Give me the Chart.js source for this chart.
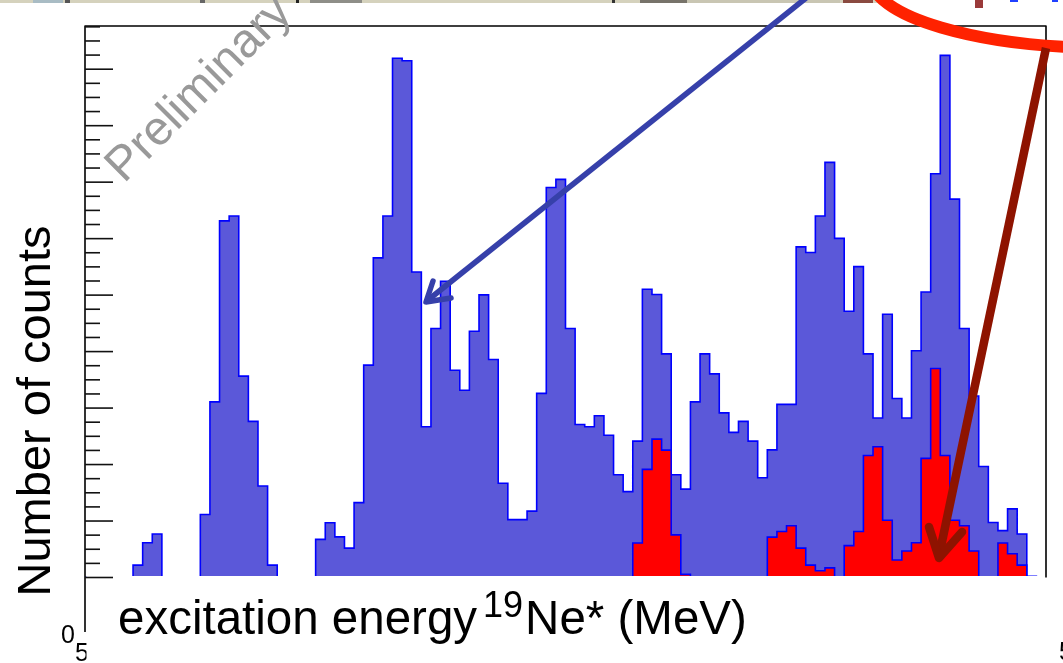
<!DOCTYPE html>
<html>
<head>
<meta charset="utf-8">
<script src="https://cdn.jsdelivr.net/npm/chart.js@4.4.1/dist/chart.umd.min.js"></script>
<style>
  html, body { margin: 0; padding: 0; background: #fff; }
  #wrap { width: 1063px; height: 663px; }
</style>
</head>
<body>
<div id="wrap"><canvas id="hist" width="1063" height="663"></canvas></div>
<script>
// histogram range (MeV) and axis limits
const xLow = 5.0;
const xHigh = 7.0;
const yMax = 195.3;
const yMajorStep = 20;
const yMinorStep = 5;

// all events, 100 bins
const blueCounts = [
  0, 0, 0, 0, 0, 4.4, 12.3, 15.4, 0, 0,
  0, 0, 22.3, 62.2, 126.3, 128.0, 71.3, 55.3, 32.4, 4.4,
  0, 0, 0, 0, 13.5, 19.4, 14.4, 10.4, 26.5, 75.2,
  113.2, 128.0, 183.9, 183.0, 108.2, 53.4, 88.2, 104.9, 73.4, 66.3,
  87.2, 100.1, 77.2, 33.4, 20.5, 20.5, 23.5, 65.2, 138.1, 141.0,
  88.2, 54.2, 53.4, 57.3, 50.4, 36.4, 30.4, 48.3, 102.1, 100.2,
  79.2, 36.4, 31.3, 62.2, 79.2, 72.1, 58.3, 51.4, 55.3, 48.3,
  35.3, 45.2, 61.3, 61.3, 117.1, 115.1, 128.0, 147.0, 120.1, 94.3,
  110.1, 79.2, 56.5, 93.2, 63.4, 56.5, 80.3, 101.1, 143.0, 184.9,
  134.0, 88.2, 64.3, 39.3, 19.5, 16.6, 24.3, 15.4, 0.4, 0
];

// gated events, same binning
const redCounts = [
  0, 0, 0, 0, 0, 0, 0, 0, 0, 0,
  0, 0, 0, 0, 0, 0, 0, 0, 0, 0,
  0, 0, 0, 0, 0, 0, 0, 0, 0, 0,
  0, 0, 0, 0, 0, 0, 0, 0, 0, 0,
  0, 0, 0, 0, 0, 0, 0, 0, 0, 0,
  0, 0, 0, 0, 0, 0, 0, 12.2, 38.3, 49.0,
  45.1, 15.1, 1.1, 0, 0, 0, 0, 0, 0, 0,
  0, 14.3, 16.3, 18.3, 10.4, 4.4, 2.4, 3.4, 0, 11.3,
  16.3, 43.2, 46.3, 20.3, 6.2, 9.4, 12.3, 42.2, 74.0, 43.2,
  20.3, 18.3, 9.4, 0, 0, 12.2, 8.4, 4.4, 0, 0
];

// turn bin contents into step points (left edges + closing right edge)
const toSteps = counts => {
  const w = (xHigh - xLow) / counts.length;
  const pts = counts.map((c, i) => ({ x: xLow + i * w, y: c }));
  pts.push({ x: xHigh, y: counts[counts.length - 1] });
  return pts;
};

const line = (ctx, pts, width, color, cap) => {
  ctx.beginPath();
  ctx.moveTo(pts[0][0], pts[0][1]);
  for (let i = 1; i < pts.length; i++) ctx.lineTo(pts[i][0], pts[i][1]);
  ctx.lineWidth = width;
  ctx.strokeStyle = color;
  ctx.lineCap = cap || 'butt';
  ctx.lineJoin = 'round';
  ctx.stroke();
};

const overlay = {
  id: 'overlay',
  afterDraw(chart) {
    const ctx = chart.ctx;
    const a = chart.chartArea;
    const ys = chart.scales.y;
    const base = ys.getPixelForValue(0);
    ctx.save();

    // strip of the slide above
    const strip = [[0, 880, '#d5d2bd'], [33, 63, '#a9bcc4'], [65, 70, '#555'], [200, 205, '#666'],
      [296, 299, '#222'], [310, 362, '#8e8e88'], [612, 615, '#333'], [640, 687, '#77736a'],
      [687, 840, '#c9c6b3'], [843, 873, '#8a4a40']];
    strip.forEach(s => { ctx.fillStyle = s[2]; ctx.fillRect(s[0], 0, s[1] - s[0], 3); });
    ctx.fillStyle = '#9a3a3a'; ctx.fillRect(975, 0, 8, 8);
    ctx.fillStyle = '#2040ff'; ctx.fillRect(1010, 0, 8, 2); ctx.fillRect(1052, 0, 6, 2);

    // cut-off tick labels
    ctx.fillStyle = '#000';
    ctx.font = '25px "Liberation Sans", Arial, sans-serif';
    ctx.textBaseline = 'alphabetic';
    ctx.textAlign = 'left';
    ctx.fillText('0', 61, 643);
    ctx.fillText('5', 75, 661);
    ctx.fillText('5', 1059, 660);

    // white text box over the x axis (hides the baseline outline too)
    ctx.fillStyle = '#fff';
    ctx.fillRect(86.5, Math.floor(base - 1), 963, 663);

    // frame and inward ticks
    line(ctx, [[a.left, 632], [a.left, a.top], [a.right, a.top], [a.right, base]], 1.6, '#000');
    for (let v = 0; v <= yMax; v += yMinorStep) {
      const py = ys.getPixelForValue(v);
      const len = v % yMajorStep === 0 ? 28 : 15;
      line(ctx, [[a.left, py], [a.left + len, py]], 1.6, '#111');
    }

    // x title with superscript
    ctx.fillStyle = '#000';
    ctx.font = '47.5px "Liberation Sans", Arial, sans-serif';
    const t1 = 'excitation energy';
    ctx.fillText(t1, 118, 634);
    const supX = 118 + ctx.measureText(t1).width + 6;
    ctx.font = '36px "Liberation Sans", Arial, sans-serif';
    ctx.fillText('19', supX, 617);
    ctx.font = '47.5px "Liberation Sans", Arial, sans-serif';
    ctx.fillText('Ne* (MeV)', supX + 42, 634);

    // y title
    ctx.save();
    ctx.translate(50, 411);
    ctx.rotate(-Math.PI / 2);
    ctx.textAlign = 'center';
    ctx.font = '47px "Liberation Sans", Arial, sans-serif';
    ctx.fillText('Number of counts', 0, 0);
    ctx.restore();

    // watermark
    ctx.save();
    ctx.translate(124, 184);
    ctx.rotate(-45 * Math.PI / 180);
    ctx.fillStyle = '#999999';
    ctx.font = '48px "Liberation Sans", Arial, sans-serif';
    ctx.fillText('Preliminary', 0, 0);
    ctx.restore();

    // blue arrow
    line(ctx, [[806, -2], [428, 300]], 5.5, '#3640aa');
    line(ctx, [[433, 281], [426, 302], [451, 298]], 5.5, '#3640aa', 'round');

    // red ellipse
    ctx.beginPath();
    ctx.ellipse(1110, -22, 239, 70, 0, 0, Math.PI * 2);
    ctx.lineWidth = 12;
    ctx.strokeStyle = '#ff2200';
    ctx.stroke();

    // dark red arrow
    line(ctx, [[1046, 48], [939, 556]], 8.5, '#8e1300');
    line(ctx, [[929, 527], [939, 558], [962, 532]], 8.5, '#8e1300', 'round');

    ctx.restore();
  }
};

new Chart(document.getElementById('hist'), {
  type: 'line',
  data: {
    datasets: [
      {
        label: 'gated',
        data: toSteps(redCounts),
        stepped: true,
        fill: 'origin',
        backgroundColor: '#ff0000',
        borderColor: '#0000ff',
        borderWidth: 1.6,
        pointRadius: 0,
        order: 0
      },
      {
        label: 'all',
        data: toSteps(blueCounts),
        stepped: true,
        fill: 'origin',
        backgroundColor: '#5b58d9',
        borderColor: '#0000ff',
        borderWidth: 1.6,
        pointRadius: 0,
        order: 1
      }
    ]
  },
  options: {
    responsive: false,
    animation: false,
    layout: { padding: { left: 85, right: 17, top: 26, bottom: 85.5 } },
    plugins: { legend: { display: false }, tooltip: { enabled: false } },
    scales: {
      x: { type: 'linear', display: false, min: xLow, max: xHigh },
      y: { display: false, min: 0, max: yMax }
    }
  },
  plugins: [overlay]
});
</script>
</body>
</html>
